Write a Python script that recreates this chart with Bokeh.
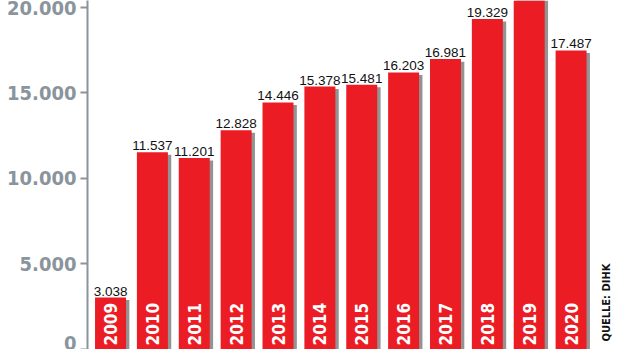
import math
from bokeh.plotting import figure
from bokeh.models import ColumnDataSource, LabelSet, Label, Range1d, CustomJSTickFormatter, FixedTicker
from bokeh.core.properties import value
from bokeh.embed import file_html
from bokeh.resources import INLINE

years = ["2009", "2010", "2011", "2012", "2013", "2014", "2015", "2016", "2017", "2018", "2019", "2020"]
values = [3038, 11537, 11201, 12828, 14446, 15378, 15481, 16203, 16981, 19329, 20800, 17487]
y_ticks = [0, 5000, 10000, 15000, 20000]
source_note = "QUELLE: DIHK"


def de_fmt(v):
    return f"{v:,}".replace(",", ".")


idx = list(range(len(years)))
src = ColumnDataSource(dict(
    x=idx,
    xs=[i + 0.08 for i in idx],
    top=values,
    stop=[v - 150 for v in values],
    year=years,
    lab=[de_fmt(v) for v in values],
    zero=[0] * len(values),
))

COND = "'DejaVu Sans Condensed', 'Roboto', sans-serif"
REG = "'Liberation Sans', Arial, sans-serif"
GRAY = "#8a949c"

p = figure(width=620, height=349, output_backend="svg", toolbar_location=None,
           x_range=Range1d(-0.55, 12.18), y_range=Range1d(0, 20409),
           min_border_left=87, min_border_right=0, min_border_top=0, min_border_bottom=0)
p.xaxis.visible = False
p.xgrid.visible = False
p.ygrid.visible = False
p.outline_line_color = None
p.background_fill_color = "white"
p.border_fill_color = "white"

p.vbar(x="xs", top="stop", width=0.74, bottom=0, source=src, fill_color="#3a3a3a",
       fill_alpha=0.55, line_color=None)
p.vbar(x="x", top="top", width=0.74, bottom=0, source=src, fill_color="#ec1c24", line_color=None)

ya = p.yaxis[0]
ya.ticker = FixedTicker(ticks=y_ticks)
ya.formatter = CustomJSTickFormatter(code="return tick.toFixed(0).replace(/\\B(?=(\\d{3})+(?!\\d))/g, '.');")
ya.axis_line_color = GRAY
ya.axis_line_width = 2
ya.major_tick_line_color = GRAY
ya.major_tick_line_width = 2
ya.major_tick_out = 7
ya.major_tick_in = 0
ya.minor_tick_line_color = None
ya.major_label_text_color = GRAY
ya.major_label_text_font = COND
ya.major_label_text_font_style = "bold"
ya.major_label_text_font_size = "20px"
ya.major_label_standoff = 4

p.add_layout(LabelSet(x="x", y="top", text="lab", source=src, text_align="center",
                      text_baseline="bottom", y_offset=2, text_font=value(REG),
                      text_font_size=value("13.5px"), text_color=value("#111111")))
p.add_layout(LabelSet(x="x", y="zero", text="year", source=src, angle=math.pi / 2,
                      text_align="left", text_baseline="middle", y_offset=4,
                      text_font=value(COND), text_font_style="bold", text_font_size=value("17px"),
                      text_color=value("white")))
p.add_layout(Label(x=11.84, y=0, text=source_note, angle=math.pi / 2, text_align="left",
                   text_baseline="middle", y_offset=8, text_font=COND,
                   text_font_style="bold", text_font_size="11px", text_color="#111111"))

open("out.html", "w").write(file_html(p, INLINE))
